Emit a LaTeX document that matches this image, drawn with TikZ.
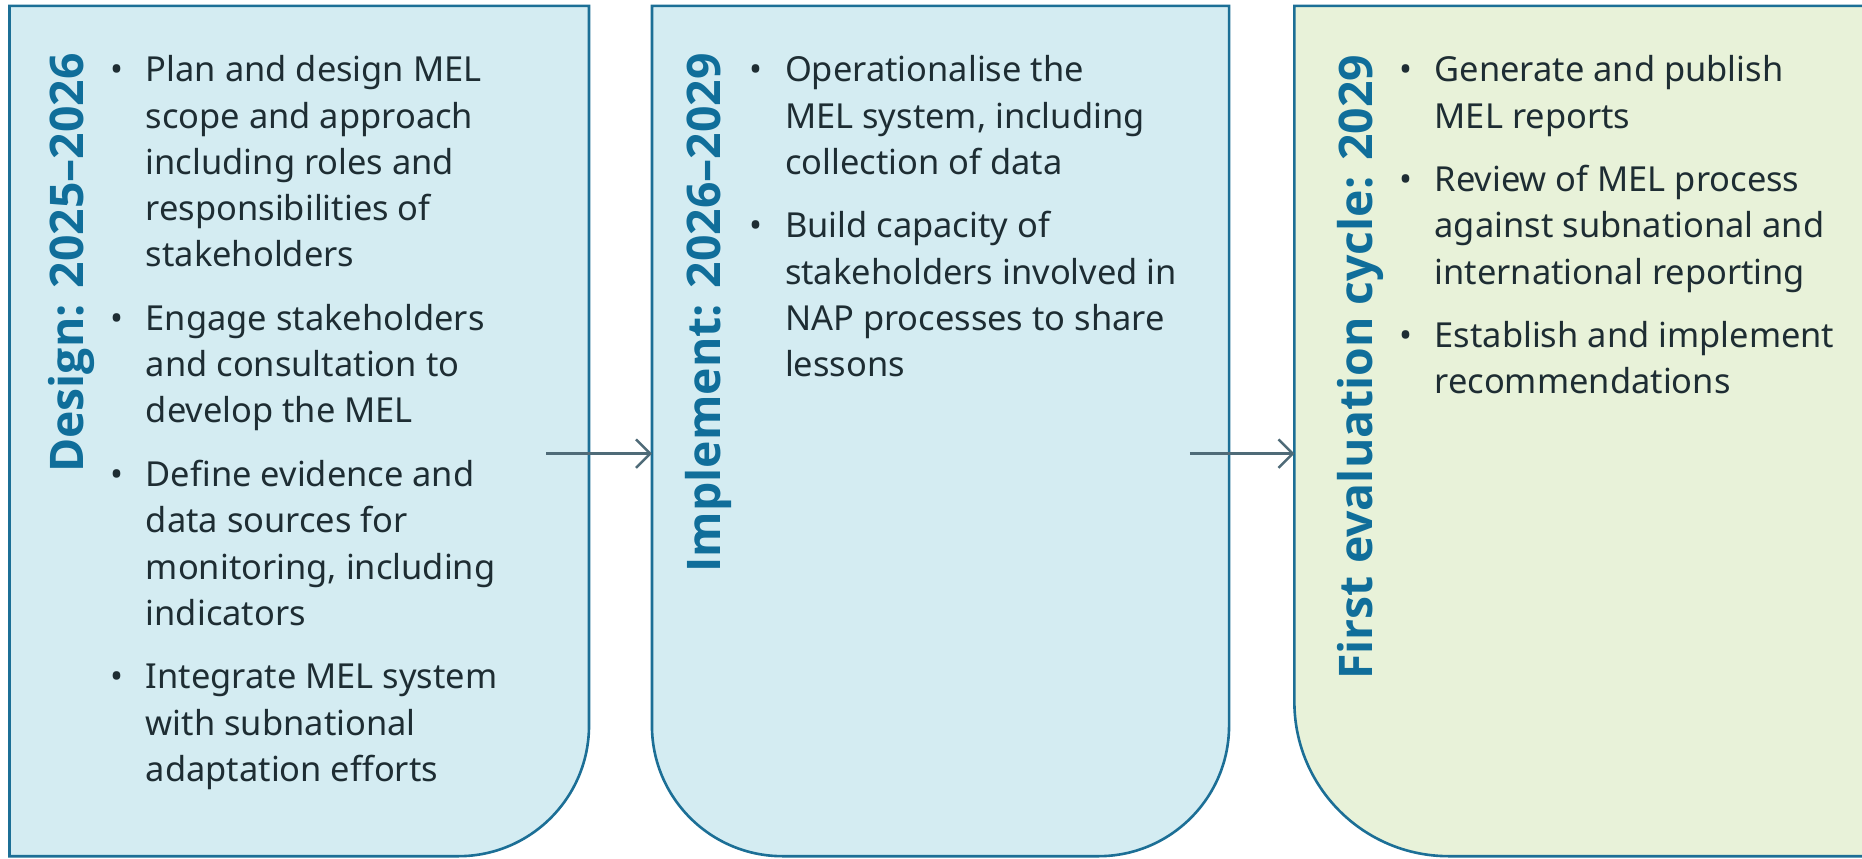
\documentclass[tikz,border=0pt]{standalone}
\usepackage{fontspec}
\setmainfont{Noto Sans}
\newfontfamily\meltitlefont{Open Sans}
\usetikzlibrary{arrows.meta}
\definecolor{melblue}{HTML}{D4ECF2}
\definecolor{melgreen}{HTML}{E8F2D9}
\definecolor{meledge}{HTML}{1C6F96}
\definecolor{meltitle}{HTML}{106E9A}
\definecolor{meltext}{HTML}{1E2D33}
\definecolor{melarrow}{HTML}{4F6B78}
\tikzset{
  phasetitle/.style={rotate=90, anchor=base east, inner sep=0pt, text=meltitle,
    font=\meltitlefont\fontsize{39}{47}\selectfont\bfseries},
  phaselist/.style={anchor=base west, inner sep=0pt, text=meltext,
    font=\fontsize{29}{39}\selectfont},
  phasearrow/.style={draw=melarrow, line width=2pt,
    -{Straight Barb[length=12pt,width=24pt,line width=2pt]}}
}
\newcommand{\melitem}{\leavevmode\llap{\textbullet\hspace{19pt}}}
\begin{document}
\begin{tikzpicture}[x=1pt,y=1pt]
  \useasboundingbox (0,0) rectangle (1568,-723);
  \clip (0,0) rectangle (1568,-723);
  \pgfsetlinewidth{2.2pt}
  \pgfsetstrokecolor{meledge}
  % Design: blue, round corner bottom right
  \pgfsetfillcolor{melblue}
  \pgfpathmoveto{\pgfpoint{8pt}{-5pt}}
  \pgfpathlineto{\pgfpoint{496pt}{-5pt}}
  \pgfpathlineto{\pgfpoint{496pt}{-611pt}}
  \pgfpatharcto{110pt}{110pt}{0}{0}{0}{\pgfpoint{386pt}{-721pt}}
  \pgfpathlineto{\pgfpoint{8pt}{-721pt}}
  \pgfpathclose
  \pgfusepath{fill,stroke}
  % Implement: blue, both bottom corners round
  \pgfpathmoveto{\pgfpoint{549pt}{-5pt}}
  \pgfpathlineto{\pgfpoint{1035pt}{-5pt}}
  \pgfpathlineto{\pgfpoint{1035pt}{-611pt}}
  \pgfpatharcto{110pt}{110pt}{0}{0}{0}{\pgfpoint{925pt}{-721pt}}
  \pgfpathlineto{\pgfpoint{659pt}{-721pt}}
  \pgfpatharcto{110pt}{110pt}{0}{0}{0}{\pgfpoint{549pt}{-611pt}}
  \pgfpathclose
  \pgfusepath{fill,stroke}
  % First evaluation: green, runs off the right edge
  \pgfsetfillcolor{melgreen}
  \pgfpathmoveto{\pgfpoint{1090pt}{-5pt}}
  \pgfpathlineto{\pgfpoint{1590pt}{-5pt}}
  \pgfpathlineto{\pgfpoint{1590pt}{-721pt}}
  \pgfpathlineto{\pgfpoint{1220pt}{-721pt}}
  \pgfpatharcto{130pt}{130pt}{0}{0}{0}{\pgfpoint{1090pt}{-591pt}}
  \pgfpathclose
  \pgfusepath{fill,stroke}

  % arrows between phases
  \coordinate (design-out) at (460,-382);
  \coordinate (implement-in) at (549,-382);
  \coordinate (implement-out) at (1002,-382);
  \coordinate (evaluation-in) at (1090,-382);
  \draw[phasearrow] (design-out) -- (implement-in);
  \draw[phasearrow] (implement-out) -- (evaluation-in);

  % titles
  \node[phasetitle] (design-title) at (70,-44) {Design: 2025–2026};
  \node[phasetitle] (implement-title) at (607,-44) {Implement: 2026–2029};
  \node[phasetitle] (evaluation-title) at (1156,-45) {First evaluation cycle: 2029};

  % bullet lists
  \node[phaselist] (design-list) at (121.7,-68.8) {\parbox[t]{380pt}{%
    \melitem Plan and design MEL\\ scope and approach\\ including roles and\\
    responsibilities of\\ stakeholders\\[14.4pt]
    \melitem Engage stakeholders\\ and consultation to\\ develop the MEL\\[14.4pt]
    \melitem Define evidence and\\ data sources for\\ monitoring, including\\ indicators\\[14.4pt]
    \melitem Integrate MEL system\\ with subnational\\ adaptation efforts}};
  \node[phaselist] (implement-list) at (660,-68.8) {\parbox[t]{380pt}{%
    \melitem Operationalise the\\ MEL system, including\\ collection of data\\[14.4pt]
    \melitem Build capacity of\\ stakeholders involved in\\ NAP processes to share\\ lessons}};
  \node[phaselist] (evaluation-list) at (1207,-68.8) {\parbox[t]{380pt}{%
    \melitem Generate and publish\\ MEL reports\\[14.4pt]
    \melitem Review of MEL process\\ against subnational and\\ international reporting\\[14.4pt]
    \melitem Establish and implement\\ recommendations}};
\end{tikzpicture}
\end{document}
